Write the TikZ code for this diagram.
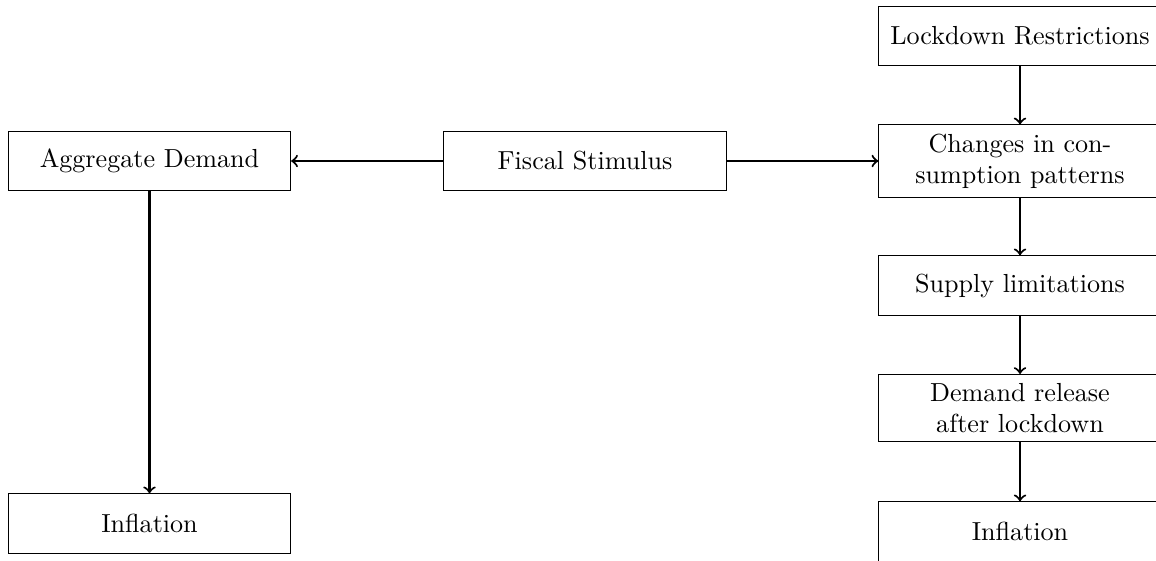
\documentclass[tikz,border=0pt]{standalone}
\begin{document}
\begin{tikzpicture}[x=0.3831pt,y=-0.3831pt,
  box/.style={draw,align=center,minimum width=3.8cm,minimum height=0.8cm,inner sep=3.33pt},
  arr/.style={->,thick}]
\useasboundingbox (0,0) rectangle (1156,560);
\node[box] (ld) at (1020,36) {Lockdown Restrictions};
\node[box] (ch) at (1020,161) {Changes in con-\\sumption patterns};
\node[box] (sl) at (1020,285.5) {Supply limitations};
\node[box] (dr) at (1020,408) {Demand release\\after lockdown};
\node[box] (ir) at (1020,531.5) {Inflation};
\node[box] (fs) at (585,161) {Fiscal Stimulus};
\node[box] (ad) at (149.5,161) {Aggregate Demand};
\node[box] (il) at (149.5,523.5) {Inflation};
\draw[arr] (ld) -- (ch);
\draw[arr] (ch) -- (sl);
\draw[arr] (sl) -- (dr);
\draw[arr] (dr) -- (ir);
\draw[arr] (fs) -- (ch);
\draw[arr] (fs) -- (ad);
\draw[arr] (ad) -- (il);
\end{tikzpicture}
\end{document}
